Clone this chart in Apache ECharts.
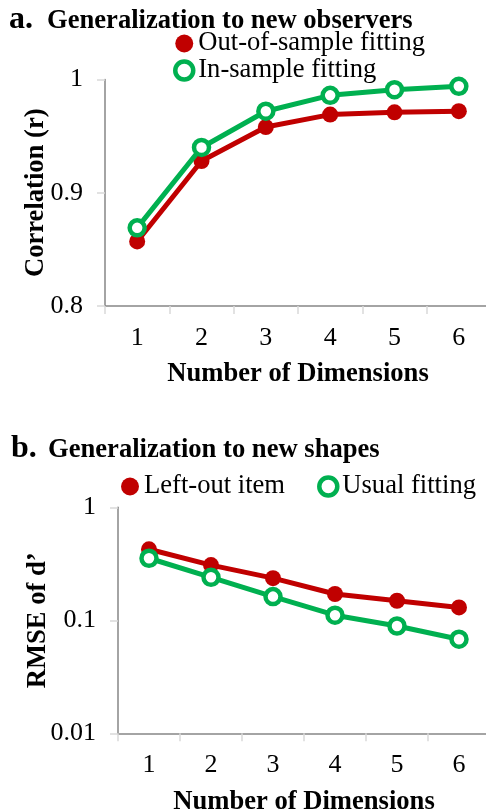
<!DOCTYPE html>
<html>
<head>
<meta charset="utf-8">
<style>
  html, body { margin: 0; padding: 0; background: #fff; }
  #chart { width: 486px; height: 810px; }
</style>
<script src="https://cdn.jsdelivr.net/npm/echarts@6/dist/echarts.min.js"></script>
</head>
<body>
<div id="chart"></div>
<script>
// Dimensions on the horizontal axis (shared by both panels)
const dimensions = ['1', '2', '3', '4', '5', '6'];

// Panel a: correlation when generalizing to new observers
const outOfSample = [0.857, 0.928, 0.958, 0.969, 0.971, 0.972];
const inSample = [0.869, 0.940, 0.972, 0.986, 0.991, 0.994];
const corrTicks = ['0.8', '0.9', '1'];

// Panel b: RMSE of d' when generalizing to new shapes
const leftOutItem = [0.425, 0.308, 0.236, 0.171, 0.149, 0.130];
const usualFitting = [0.354, 0.240, 0.162, 0.111, 0.089, 0.068];
const rmseTicks = ['0.01', '0.1', '1'];

const RED = '#C00000';
const GREEN = '#00B050';
const SERIF = '"Liberation Serif", "Times New Roman", serif';
const AXIS_GRAY = '#868686';
const TICK_GRAY = '#D9D9D9';
const TEXT_SIZE = 26.6;

function tickLabel(list) {
  return function (v) {
    for (const t of list) {
      if (Math.abs(Number(t) - v) < 1e-9 * Math.max(1, Math.abs(v)) + 1e-12) return t;
    }
    return '';
  };
}

function xAxisFor(gridIndex, gap) {
  return {
    type: 'category',
    gridIndex: gridIndex,
    data: dimensions,
    boundaryGap: true,
    name: 'Number of Dimensions',
    nameLocation: 'middle',
    nameGap: gap,
    nameMoveOverlap: false,
    nameTextStyle: { fontFamily: SERIF, fontSize: TEXT_SIZE, fontWeight: 'bold', color: '#000' },
    axisLine: { show: true, lineStyle: { color: AXIS_GRAY, width: 1.5 } },
    axisTick: { show: true, length: 8, alignWithLabel: false, lineStyle: { color: TICK_GRAY, width: 1.5 } },
    axisLabel: { fontFamily: SERIF, fontSize: 26, color: '#000', margin: 19 },
    splitLine: { show: false }
  };
}

function yAxisStyle(name, gap) {
  return {
    name: name, nameLocation: 'middle', nameGap: gap, nameRotate: 90,
    nameMoveOverlap: false,
    nameTextStyle: { fontFamily: SERIF, fontSize: TEXT_SIZE, fontWeight: 'bold', color: '#000' },
    axisLine: { show: true, lineStyle: { color: AXIS_GRAY, width: 1.5 } },
    axisTick: { show: true, length: 8, lineStyle: { color: TICK_GRAY, width: 1.5 } },
    splitLine: { show: false }
  };
}

const labelStyle = { fontFamily: SERIF, fontSize: TEXT_SIZE, color: '#000' };

const chart = echarts.init(document.getElementById('chart'), null, { renderer: 'canvas' });

chart.setOption({
  animation: false,
  backgroundColor: '#fff',
  title: [
    { text: 'a.', left: 9, top: 4, padding: 0,
      textStyle: { fontFamily: SERIF, fontSize: 32, fontWeight: 'bold', color: '#000' } },
    { text: 'Generalization to new observers', left: 47, top: 8, padding: 0,
      textStyle: { fontFamily: SERIF, fontSize: TEXT_SIZE, fontWeight: 'bold', color: '#000' } },
    { text: 'b.', left: 11, top: 433, padding: 0,
      textStyle: { fontFamily: SERIF, fontSize: 32, fontWeight: 'bold', color: '#000' } },
    { text: 'Generalization to new shapes', left: 48, top: 437, padding: 0,
      textStyle: { fontFamily: SERIF, fontSize: TEXT_SIZE, fontWeight: 'bold', color: '#000' } }
  ],
  legend: [
    {
      orient: 'vertical',
      left: 173, top: 30, padding: 0,
      itemWidth: 18, itemHeight: 18, itemGap: 0,
      textStyle: labelStyle,
      data: [
        { name: 'Out-of-sample fitting', icon: 'circle', itemStyle: { color: RED, borderWidth: 0 } },
        { name: 'In-sample fitting', icon: 'circle',
          itemStyle: { color: '#fff', borderColor: GREEN, borderWidth: 4.5 } }
      ]
    },
    {
      orient: 'horizontal',
      left: 121, top: 473, padding: 0,
      itemWidth: 18, itemHeight: 18, itemGap: 32,
      textStyle: labelStyle,
      data: [
        { name: 'Left-out item', icon: 'circle', itemStyle: { color: RED, borderWidth: 0 } },
        { name: 'Usual fitting', icon: 'circle',
          itemStyle: { color: '#fff', borderColor: GREEN, borderWidth: 4.5 } }
      ]
    }
  ],
  grid: [
    { left: 105, top: 79.5, width: 386, height: 226.5, containLabel: false, outerBoundsMode: 'none' },
    { left: 118, top: 507.3, width: 372, height: 226, containLabel: false, outerBoundsMode: 'none' }
  ],
  xAxis: [xAxisFor(0, 55), xAxisFor(1, 55)],
  yAxis: [
    Object.assign({
      type: 'value', gridIndex: 0,
      min: 0.8, max: 1, interval: 0.1,
      axisLabel: { fontFamily: SERIF, fontSize: 26, color: '#000', margin: 22, formatter: tickLabel(corrTicks) }
    }, yAxisStyle('Correlation (r)', 55)),
    Object.assign({
      type: 'log', gridIndex: 1, logBase: 10,
      min: 0.01, max: 1,
      minorTick: { show: false },
      axisLabel: { fontFamily: SERIF, fontSize: 26, color: '#000', margin: 22, formatter: tickLabel(rmseTicks) }
    }, yAxisStyle('RMSE of d\u2019', 66))
  ],
  series: [
    {
      name: 'Out-of-sample fitting', type: 'line', xAxisIndex: 0, yAxisIndex: 0,
      data: outOfSample, symbol: 'circle', symbolSize: 16,
      lineStyle: { color: RED, width: 5 },
      itemStyle: { color: RED, borderWidth: 0 },
      z: 2
    },
    {
      name: 'In-sample fitting', type: 'line', xAxisIndex: 0, yAxisIndex: 0,
      data: inSample, symbol: 'circle', symbolSize: 15,
      lineStyle: { color: GREEN, width: 5 },
      itemStyle: { color: '#fff', borderColor: GREEN, borderWidth: 4.5 },
      z: 3
    },
    {
      name: 'Left-out item', type: 'line', xAxisIndex: 1, yAxisIndex: 1,
      data: leftOutItem, symbol: 'circle', symbolSize: 16,
      lineStyle: { color: RED, width: 5 },
      itemStyle: { color: RED, borderWidth: 0 },
      z: 2
    },
    {
      name: 'Usual fitting', type: 'line', xAxisIndex: 1, yAxisIndex: 1,
      data: usualFitting, symbol: 'circle', symbolSize: 15,
      lineStyle: { color: GREEN, width: 5 },
      itemStyle: { color: '#fff', borderColor: GREEN, borderWidth: 4.5 },
      z: 3
    }
  ]
});
</script>
</body>
</html>
